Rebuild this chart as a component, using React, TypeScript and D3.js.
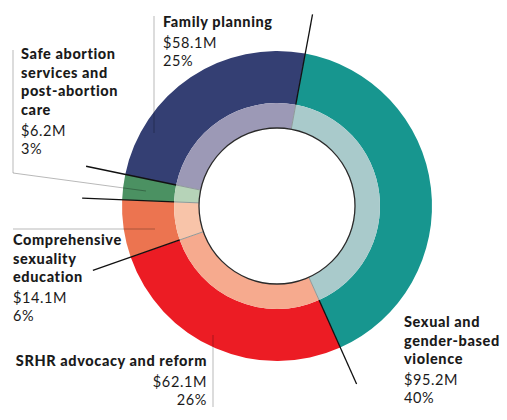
import React from "react";
import * as d3 from "d3";

const categories = [
  "Sexual and gender-based violence",
  "SRHR advocacy and reform",
  "Comprehensive sexuality education",
  "Safe abortion services and post-abortion care",
  "Family planning",
];
const values = [95.2, 62.1, 14.1, 6.2, 58.1];
const amountLabels = ["$95.2M", "$62.1M", "$14.1M", "$6.2M", "$58.1M"];
const percentLabels = ["40%", "26%", "6%", "3%", "25%"];
const titleLines = [
  ["Sexual and", "gender-based", "violence"],
  ["SRHR advocacy and reform"],
  ["Comprehensive", "sexuality", "education"],
  ["Safe abortion", "services and", "post-abortion", "care"],
  ["Family planning"],
];
const outerColors = ["#17968f", "#ec1c24", "#ec7450", "#4b9162", "#343f73"];
const innerColors = ["#a9cacb", "#f6aa8e", "#f8c4a9", "#b6d3b8", "#9c99b6"];

// label layout: x, y of first line baseline, anchor
const labelPos = [
  { x: 404, y: 327, anchor: "start" },
  { x: 207, y: 366, anchor: "end" },
  { x: 13, y: 245, anchor: "start" },
  { x: 21, y: 59, anchor: "start" },
  { x: 163, y: 27, anchor: "start" },
];
// thin gray leader lines
const leaders: [number, number][][] = [
  [],
  [[213, 335], [213, 407]],
  [[13, 229], [155, 229]],
  [[13, 50], [13, 173], [146, 191]],
  [[154, 16], [154, 133]],
];

const W = 507;
const H = 420;
const cx = 277;
const cy = 206;
const rHole = 78;
const rMid = 103;
const rOuter = 155;
const rLine = 195;
const startDeg = 10.5;

export default function App() {
  const start = (startDeg * Math.PI) / 180;
  const pie = d3
    .pie<number>()
    .sort(null)
    .startAngle(start)
    .endAngle(start + 2 * Math.PI)
    .value((d) => d);
  const arcs = pie(values);
  const outerArc = d3.arc<d3.PieArcDatum<number>>().innerRadius(rMid).outerRadius(rOuter);
  const innerArc = d3.arc<d3.PieArcDatum<number>>().innerRadius(rHole).outerRadius(rMid);
  const pt = (a: number, r: number): [number, number] => [cx + r * Math.sin(a), cy - r * Math.cos(a)];
  const line = d3.line();
  const font = "Lato, 'Noto Sans', sans-serif";

  return (
    <svg width={W} height={H} style={{ position: "absolute", left: 0, top: 0 }}>
      <rect width={W} height={H} fill="#fff" />
      <g transform={`translate(${cx},${cy})`}>
        {arcs.map((a, i) => (
          <path key={"o" + i} d={outerArc(a) || ""} fill={outerColors[i]} />
        ))}
        {arcs.map((a, i) => (
          <path key={"i" + i} d={innerArc(a) || ""} fill={innerColors[i]} />
        ))}
      </g>
      {arcs.map((a, i) => {
        const [x1, y1] = pt(a.startAngle, rHole);
        const [x2, y2] = pt(a.startAngle, rMid);
        return <line key={"g" + i} x1={x1} y1={y1} x2={x2} y2={y2} stroke="#8f9a9a" strokeWidth={1} />;
      })}
      {arcs.map((a, i) => {
        const [x1, y1] = pt(a.startAngle, rMid);
        const [x2, y2] = pt(a.startAngle, rLine);
        return <line key={"b" + i} x1={x1} y1={y1} x2={x2} y2={y2} stroke="#111" strokeWidth={1.3} />;
      })}
      <circle cx={cx} cy={cy} r={rHole} fill="#fff" stroke="#2a2a2a" strokeWidth={1.3} />
      {leaders.map((pts, i) =>
        pts.length ? (
          <path key={"l" + i} d={line(pts) || ""} fill="none" stroke="#000" strokeOpacity={0.28} strokeWidth={1} />
        ) : null
      )}
      {categories.map((c, i) => {
        const p = labelPos[i];
        const lines = titleLines[i];
        const lh = 18.5;
        const yAmt = p.y + (lines.length - 1) * lh + 21;
        return (
          <g key={"t" + i} fontFamily={font} fontSize={14.5} fill="#1a1a1a" textAnchor={p.anchor} letterSpacing={0.6}>
            {lines.map((l, j) => (
              <text key={j} x={p.x} y={p.y + j * lh} fontWeight={900}>
                {l}
              </text>
            ))}
            <text x={p.x} y={yAmt} fontWeight={400}>
              {amountLabels[i]}
            </text>
            <text x={p.x} y={yAmt + 18} fontWeight={400}>
              {percentLabels[i]}
            </text>
          </g>
        );
      })}
    </svg>
  );
}
